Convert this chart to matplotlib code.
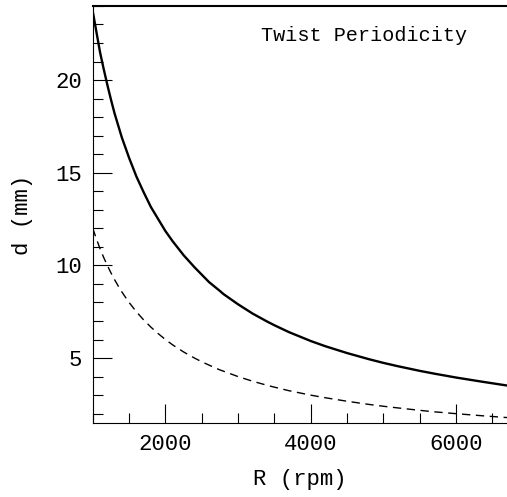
import numpy as np
import matplotlib.pyplot as plt
from matplotlib.ticker import MultipleLocator

# values
R_solid = [1000, 1050, 1100, 1150, 1200, 1250, 1300, 1350, 1400, 1450, 1500, 1600,
           1700, 1800, 1900, 2000, 2100, 2250, 2400, 2500, 2600, 2750, 2800, 3000,
           3200, 3400, 3500, 3700, 4000, 4200, 4500, 4800, 5000, 5200, 5500, 5700,
           6000, 6350, 6700]
d_solid = [23.7, 22.6, 21.5, 20.6, 19.75, 18.95, 18.2, 17.55, 16.9, 16.35, 15.8, 14.8,
           13.95, 13.15, 12.5, 11.85, 11.3, 10.55, 9.9, 9.5, 9.1, 8.62, 8.45, 7.9,
           7.4, 6.97, 6.77, 6.4, 5.92, 5.64, 5.27, 4.94, 4.74, 4.56, 4.31, 4.16,
           3.95, 3.73, 3.52]

R_dash = [1000, 1050, 1100, 1150, 1200, 1250, 1300, 1350, 1400, 1450, 1500, 1600,
          1700, 1800, 1900, 2000, 2100, 2250, 2400, 2500, 2600, 2750, 2800, 3000,
          3200, 3400, 3500, 3700, 4000, 4200, 4500, 4800, 5000, 5200, 5500, 5700,
          6000, 6350, 6700]
d_dash = [12.0, 11.43, 10.9, 10.43, 10.0, 9.6, 9.23, 8.89, 8.57, 8.28, 8.0, 7.5,
          7.06, 6.67, 6.32, 6.0, 5.71, 5.33, 5.0, 4.8, 4.62, 4.36, 4.29, 4.0,
          3.75, 3.53, 3.43, 3.24, 3.0, 2.86, 2.67, 2.5, 2.4, 2.31, 2.18, 2.1,
          2.0, 1.89, 1.79]

plt.rcParams['font.family'] = ['Liberation Mono', 'DejaVu Sans']

fig = plt.figure(figsize=(5.07, 4.97), dpi=100)
ax = fig.add_axes([0.183, 0.149, 0.817, 0.839])

ax.plot(R_solid, d_solid, color="black", lw=1.7)
ax.plot(R_dash, d_dash, color="black", lw=1.0, dashes=(6, 4))

ax.set_xlim(1000, 6700)
ax.set_ylim(1.5, 24)

ax.xaxis.set_major_locator(MultipleLocator(2000))
ax.xaxis.set_minor_locator(MultipleLocator(500))
ax.yaxis.set_major_locator(MultipleLocator(5))
ax.yaxis.set_minor_locator(MultipleLocator(1))
ax.tick_params(which="both", direction="in", top=False, right=False, labelsize=16, width=0.8)
ax.tick_params(which="major", length=14, pad=8)
ax.tick_params(which="minor", length=7)
ax.spines["right"].set_visible(False)
ax.spines["top"].set_linewidth(1.5)

ax.set_xlabel("R (rpm)", fontsize=16)
ax.set_ylabel("d (mm)", fontsize=16)
ax.xaxis.set_label_coords(0.5, -0.11)
ax.yaxis.set_label_coords(-0.145, 0.5)

ax.text(0.405, 0.93, "Twist Periodicity", transform=ax.transAxes, fontsize=14.5, va="center")

fig.savefig("out.png", dpi=100)
